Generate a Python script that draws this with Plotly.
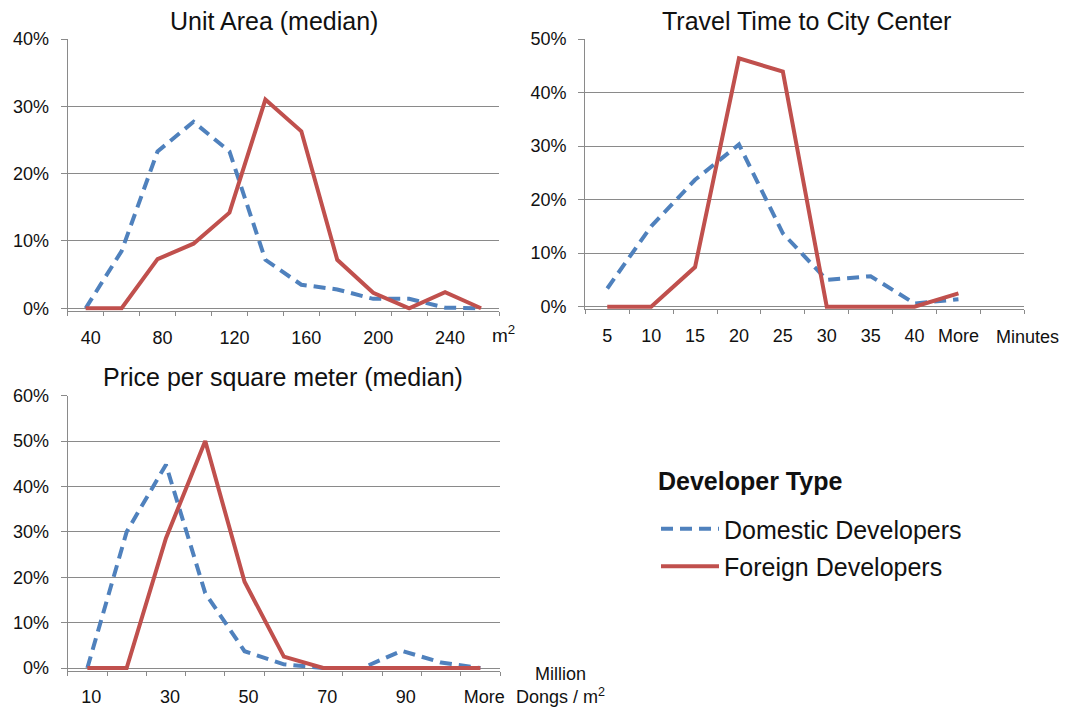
import plotly.graph_objects as go

# ---------------- data ----------------
area_cats = ["40", "60", "80", "100", "120", "140", "160", "180", "200", "220", "240", "260"]
area_domestic = [0, 8.5, 23.3, 27.7, 23.3, 7.2, 3.5, 2.8, 1.4, 1.4, 0.1, 0]
area_foreign = [0, 0, 7.3, 9.6, 14.2, 31.0, 26.3, 7.2, 2.3, 0, 2.4, 0]

travel_cats = ["5", "10", "15", "20", "25", "30", "35", "40", "More"]
travel_domestic = [3.4, 15.0, 23.7, 30.3, 13.7, 5.0, 5.7, 0.6, 1.4]
travel_foreign = [0, 0, 7.4, 46.4, 43.9, 0, 0, 0, 2.5]

price_cats = ["10", "20", "30", "40", "50", "60", "70", "80", "90", "100", "More"]
price_domestic = [0, 30.0, 44.8, 16.5, 3.7, 0.8, 0, 0, 3.8, 1.2, 0]
price_foreign = [0, 0, 28.6, 50.0, 19.0, 2.5, 0, 0, 0, 0, 0]

series_names = ["Domestic Developers", "Foreign Developers"]
legend_title = "Developer Type"

# ---------------- style ----------------
W, H = 1066, 710
FONT = "Liberation Sans, Arial, sans-serif"
TXT = "#111111"
GRID = "#8a8a8a"
BLUE = "#4F81BD"
RED = "#C0504D"
PAD = 2.5  # px below zero so lines at 0 are not clipped

panels = [
    dict(cats=area_cats, dom=area_domestic, fgn=area_foreign, l=67.7, r=499.0, top=39.0, zero=308.3,
         ymax=40, extra=0, every=2, shift=5, title="Unit Area (median)", tx=274, ty=21),
    dict(cats=travel_cats, dom=travel_domestic, fgn=travel_foreign, l=585.3, r=1024.3, top=39.0, zero=306.7,
         ymax=50, extra=1, every=1, shift=0, title="Travel Time to City Center", tx=806, ty=21),
    dict(cats=price_cats, dom=price_domestic, fgn=price_foreign, l=67.7, r=500.0, top=395.7, zero=668.0,
         ymax=60, extra=0, every=2, shift=4, title="Price per square meter (median)", tx=283, ty=377),
]

fig = go.Figure()
layout = dict(
    width=W, height=H,
    margin=dict(l=0, r=0, t=0, b=0, autoexpand=False),
    paper_bgcolor="white", plot_bgcolor="white",
    font=dict(family=FONT, size=18, color=TXT),
    annotations=[],
)

for i, p in enumerate(panels):
    n = i + 1
    xa = "x" if n == 1 else f"x{n}"
    ya = "y" if n == 1 else f"y{n}"
    xkey = "xaxis" if n == 1 else f"xaxis{n}"
    ykey = "yaxis" if n == 1 else f"yaxis{n}"
    pos = list(range(len(p["cats"])))
    fig.add_trace(go.Scatter(
        x=pos, y=p["dom"], mode="lines", name=series_names[0], legendgroup="d",
        showlegend=(n == 1), line=dict(color=BLUE, width=4, dash="12px,7px"),
        xaxis=xa, yaxis=ya))
    fig.add_trace(go.Scatter(
        x=pos, y=p["fgn"], mode="lines", name=series_names[1], legendgroup="f",
        showlegend=(n == 1), line=dict(color=RED, width=4),
        xaxis=xa, yaxis=ya))

    per = (p["zero"] - p["top"]) / p["ymax"]
    nslots = len(p["cats"]) + p["extra"]
    yvals = list(range(0, p["ymax"] + 1, 10))
    layout[xkey] = dict(
        domain=[p["l"] / W, p["r"] / W],
        range=[-0.5, nslots - 0.5],
        anchor=ya,
        showline=True, linecolor=GRID, linewidth=1.3,
        showgrid=False, zeroline=False,
        tickmode="array", tickvals=pos[::p["every"]], ticktext=p["cats"][::p["every"]],
        ticks="", ticklabelstandoff=10, ticklabelshift=p["shift"],
        tickfont=dict(size=18, color=TXT, family=FONT),
        minor=dict(ticks="outside", tickmode="linear", tick0=-0.5, dtick=1,
                   ticklen=4, tickwidth=1.3, tickcolor=GRID, showgrid=False),
        fixedrange=True,
    )
    layout[ykey] = dict(
        domain=[1 - (p["zero"] + PAD) / H, 1 - p["top"] / H],
        range=[-PAD / per, p["ymax"]],
        anchor=xa,
        showline=True, linecolor=GRID, linewidth=1.3,
        showgrid=True, gridcolor=GRID, gridwidth=1.3,
        zeroline=False,
        tickmode="array", tickvals=yvals, ticktext=[f"{v}%" for v in yvals],
        ticks="outside", ticklen=6, tickwidth=1.3, tickcolor=GRID,
        ticklabelstandoff=8,
        tickfont=dict(size=18, color=TXT, family=FONT),
        fixedrange=True,
    )
    layout["annotations"].append(dict(
        text=p["title"], x=p["tx"] / W, y=1 - p["ty"] / H, xref="paper", yref="paper",
        xanchor="center", yanchor="middle", showarrow=False,
        font=dict(size=25, color=TXT, family=FONT)))

# axis unit labels and legend heading
layout["annotations"] += [
    dict(text="m<sup>2</sup>", x=503 / W, y=1 - 334 / H, xref="paper", yref="paper",
         xanchor="center", yanchor="middle", showarrow=False, font=dict(size=19, color=TXT)),
    dict(text="Minutes", x=1027 / W, y=1 - 336.7 / H, xref="paper", yref="paper",
         xanchor="center", yanchor="middle", showarrow=False, font=dict(size=18, color=TXT)),
    dict(text="Million<br>Dongs / m<sup>2</sup>", x=560 / W, y=1 - 685 / H, xref="paper", yref="paper",
         xanchor="center", yanchor="middle", showarrow=False, align="center",
         font=dict(size=18, color=TXT)),
    dict(text=f"<b>{legend_title}</b>", x=656 / W, y=1 - 481 / H, xref="paper", yref="paper",
         xanchor="left", yanchor="middle", showarrow=False, font=dict(size=25, color=TXT)),
]

layout["legend"] = dict(
    x=656 / W, y=1 - 506 / H, xanchor="left", yanchor="top",
    font=dict(size=25, color=TXT, family=FONT),
    itemwidth=58, tracegroupgap=2, bgcolor="rgba(0,0,0,0)",
)

fig.update_layout(**layout)
fig.write_html("out.html", config={"displayModeBar": False},
               post_script="document.body.style.margin='0px';")
